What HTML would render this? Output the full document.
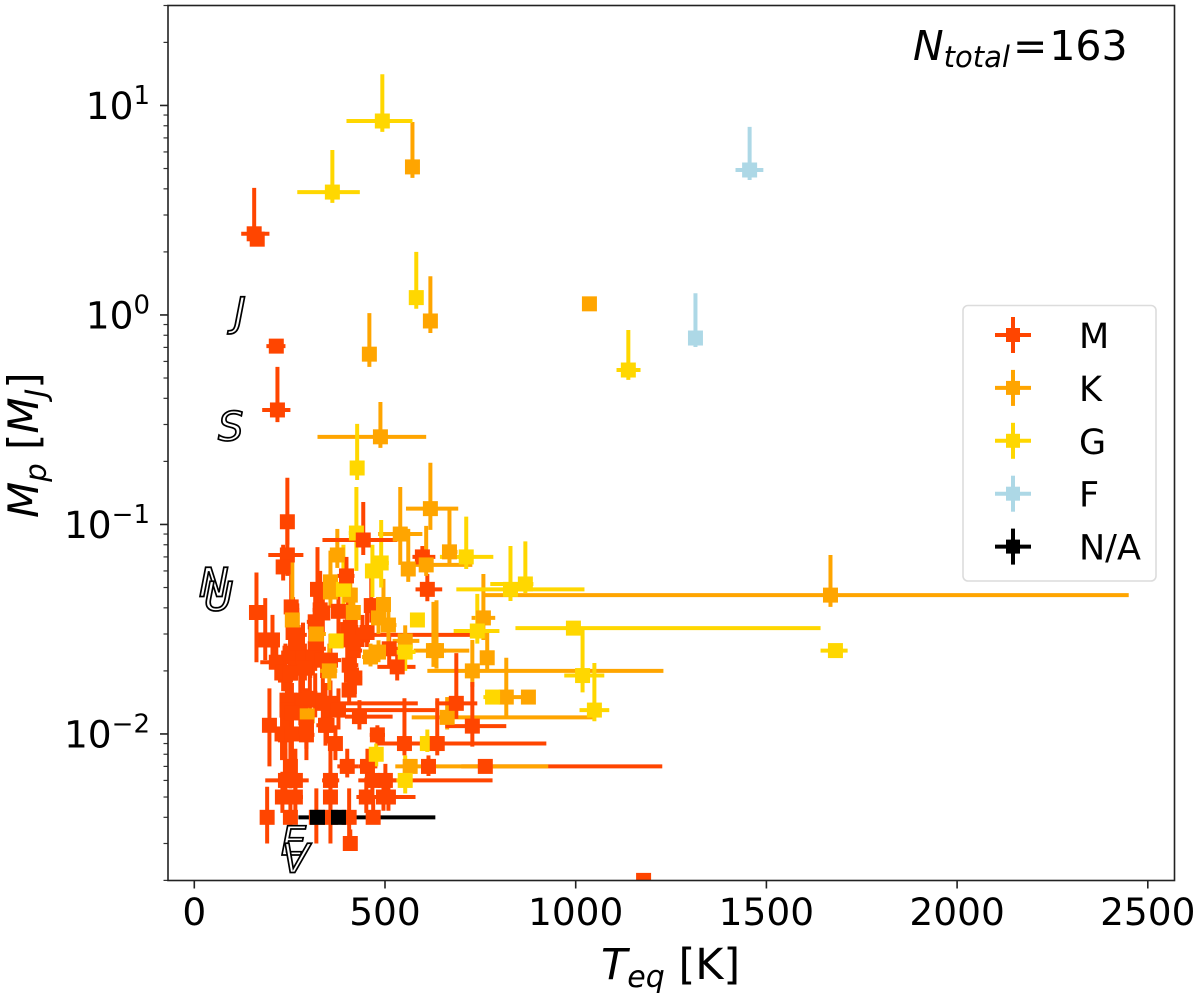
<!DOCTYPE html>
<html lang="en">
<head>
<meta charset="utf-8">
<title>Planet mass vs equilibrium temperature</title>
<style>
html,body{margin:0;padding:0;background:#fff;}
svg{display:block;font-family:"DejaVu Sans","Liberation Sans",sans-serif;}
</style>
</head>
<body>
<svg id="chart" xmlns="http://www.w3.org/2000/svg" width="1200" height="994" viewBox="0 0 1200 994"></svg>
<script>
// Tick values and labels
const xTickValues = [0, 500, 1000, 1500, 2000, 2500];
const yTickValues = [10, 1, 0.1, 0.01];
const yTickExponents = ["1", "0", "\u22121", "\u22122"];

// M stars (first batch)
const mTeq = [157,165,215,218,244,244,233,254,163,186,205,215,239,270,267,304,357,317,249,252,278,317,197,239,294,294,344,370,357,378,433,480,551,401,454,252,239,265,357,501,467,231,265,357,451,509,496,191,252,320,357,406,469,409,1178,598,611,323,464,330,378,317,409,401,441,417,406,412,406,511,532,763,251,285,311,335,233,251,290,259,270,337,403,416,453,421,243,243,285,303,256,337,230,256,348];
const mTeqLow = [123,147,189,178,228,194,218,240,150,163,190,173,215,250,245,283,325,300,230,235,250,295,180,225,280,270,320,355,320,340,395,460,525,375,430,235,186,245,335,470,430,215,245,340,425,480,470,180,235,305,345,395,450,400,1178,572,580,308,450,310,360,295,390,385,425,400,390,395,390,490,480,700,235,268,295,318,215,235,270,245,255,320,385,400,435,405,225,228,265,285,240,315,215,240,330];
const mTeqHigh = [197,184,239,252,260,286,250,268,176,220,220,257,265,295,292,325,385,345,270,270,305,350,215,265,310,315,365,385,586,632,520,500,582,430,480,270,300,285,380,530,782,250,285,375,480,580,520,205,270,335,370,420,490,420,1178,632,650,345,478,355,395,340,430,420,724,440,430,435,425,535,580,1227,270,302,330,352,250,268,310,275,285,355,420,432,470,440,262,260,305,322,272,360,245,272,365];
const mMass = [2.44,2.3,0.71,0.352,0.103,0.0715,0.0627,0.0404,0.038,0.0281,0.0281,0.022,0.0191,0.0297,0.022,0.0225,0.0225,0.0255,0.0145,0.0128,0.0138,0.0145,0.011,0.0099,0.0114,0.0099,0.011,0.009,0.014,0.013,0.0121,0.0099,0.009,0.007,0.007,0.007,0.006,0.006,0.006,0.006,0.006,0.005,0.005,0.005,0.005,0.005,0.005,0.004,0.004,0.004,0.004,0.004,0.004,0.003,0.002,0.07,0.049,0.049,0.041,0.0391,0.0385,0.0343,0.0324,0.0281,0.0297,0.025,0.0213,0.0191,0.0162,0.0255,0.0209,0.007,0.0243,0.0233,0.0231,0.0225,0.0197,0.0195,0.0206,0.0305,0.0272,0.0378,0.0315,0.0272,0.0305,0.0185,0.0145,0.013,0.0145,0.0148,0.0126,0.014,0.01,0.01,0.011];
const mMassLow = [2.3,2.25,0.68,0.308,0.08,0.0568,0.054,0.03,0.022,0.0225,0.0225,0.018,0.016,0.024,0.018,0.0185,0.019,0.02,0.012,0.0105,0.011,0.012,0.007,0.007,0.0085,0.0075,0.0088,0.0075,0.011,0.0105,0.0105,0.009,0.0079,0.0062,0.0062,0.0055,0.0052,0.005,0.005,0.0052,0.005,0.0042,0.0042,0.0037,0.0042,0.0043,0.0043,0.003,0.0035,0.003,0.003,0.003,0.0037,0.003,0.002,0.062,0.043,0.041,0.034,0.03,0.03,0.027,0.026,0.023,0.026,0.02,0.018,0.016,0.014,0.021,0.018,0.007,0.02,0.019,0.019,0.0185,0.016,0.016,0.018,0.025,0.022,0.03,0.026,0.023,0.026,0.0155,0.012,0.0105,0.012,0.0125,0.0105,0.0115,0.0075,0.0075,0.009];
const mMassHigh = [4.04,2.4,0.74,0.565,0.167,0.095,0.08,0.061,0.059,0.0445,0.037,0.028,0.027,0.042,0.031,0.035,0.03,0.037,0.02,0.0165,0.019,0.0195,0.0165,0.0135,0.0165,0.0135,0.0175,0.011,0.018,0.0165,0.0145,0.011,0.0148,0.0085,0.0085,0.0105,0.0085,0.0085,0.0095,0.0072,0.0072,0.0066,0.0066,0.0066,0.0062,0.006,0.006,0.0056,0.005,0.0055,0.005,0.0055,0.005,0.0035,0.002,0.0789,0.058,0.078,0.061,0.06,0.05,0.047,0.046,0.04,0.037,0.033,0.028,0.025,0.019,0.03,0.024,0.007,0.035,0.034,0.031,0.03,0.025,0.026,0.027,0.045,0.04,0.052,0.043,0.036,0.04,0.024,0.02,0.0175,0.02,0.019,0.0175,0.019,0.013,0.013,0.014];

// K stars
const kTeq = [572,1036,619,459,488,619,669,540,561,608,375,357,357,409,417,257,320,496,483,509,553,627,635,462,483,354,758,768,729,818,876,663,566,1668,296];
const kTeqLow = [565,1036,610,452,323,555,650,482,545,580,355,340,340,395,400,240,300,480,470,490,520,575,610,440,465,330,727,750,611,790,876,570,527,761,280];
const kTeqHigh = [580,1036,628,466,608,692,690,598,580,729,395,375,380,425,435,275,345,515,500,530,590,721,660,490,500,375,789,785,1230,875,876,1052,928,2450,312];
const kMass = [5.09,1.13,0.936,0.65,0.262,0.119,0.074,0.09,0.0613,0.0641,0.0715,0.0532,0.0476,0.046,0.038,0.035,0.03,0.0415,0.0358,0.0331,0.0278,0.025,0.025,0.0233,0.0246,0.02,0.0358,0.0231,0.02,0.015,0.015,0.012,0.007,0.046,0.0122];
const kMassLow = [4.51,1.13,0.82,0.565,0.232,0.0942,0.0641,0.0641,0.0532,0.0568,0.062,0.045,0.04,0.04,0.03,0.03,0.027,0.032,0.03,0.027,0.0245,0.0209,0.0205,0.021,0.022,0.0162,0.0281,0.02,0.0168,0.012,0.015,0.0105,0.0065,0.0404,0.0105];
const kMassHigh = [8.34,1.13,1.53,1.02,0.384,0.197,0.117,0.151,0.0952,0.0984,0.0952,0.075,0.06,0.058,0.05,0.0715,0.036,0.055,0.045,0.042,0.033,0.0427,0.0435,0.027,0.028,0.027,0.058,0.0305,0.0281,0.0231,0.015,0.015,0.0075,0.0715,0.0135];

// G stars
const gTeq = [493,362,582,1138,427,425,467,490,713,829,868,585,742,994,1018,1681,1049,372,782,611,477,553,553,391];
const gTeqLow = [399,270,575,1107,424,405,450,470,644,687,776,585,680,842,970,1642,1010,372,758,595,470,530,530,375];
const gTeqHigh = [572,434,590,1170,430,445,485,510,784,1023,889,585,800,1642,1075,1713,1088,372,800,625,485,570,580,410];
const gMass = [8.43,3.86,1.21,0.546,0.186,0.091,0.06,0.0655,0.07,0.049,0.052,0.035,0.031,0.032,0.019,0.025,0.013,0.0278,0.015,0.009,0.008,0.006,0.0246,0.049];
const gMassLow = [7.48,3.43,1.07,0.49,0.163,0.06,0.045,0.05,0.0613,0.0431,0.047,0.035,0.027,0.032,0.0158,0.024,0.0115,0.0278,0.015,0.0082,0.007,0.0052,0.02,0.04];
const gMassHigh = [14.1,6.13,2.0,0.848,0.302,0.151,0.08,0.105,0.109,0.0789,0.083,0.035,0.0466,0.032,0.032,0.026,0.0218,0.0278,0.015,0.0105,0.009,0.0079,0.03,0.08];

// F stars
const fTeq = [1456,1314];
const fTeqLow = [1419,1301];
const fTeqHigh = [1492,1327];
const fMass = [4.92,0.776];
const fMassLow = [4.41,0.703];
const fMassHigh = [7.9,1.27];

// M stars (later batch, drawn above the others)
const mLateTeq = [443,399,687,729,637,614,294];
const mLateTeqLow = [336,375,632,658,480,600,280];
const mLateTeqHigh = [532,420,742,818,923,630,310];
const mLateMass = [0.0843,0.0568,0.014,0.0109,0.009,0.007,0.0108];
const mLateMassLow = [0.0715,0.046,0.0118,0.0087,0.0079,0.0063,0.0085];
const mLateMassHigh = [0.128,0.07,0.0243,0.0177,0.0148,0.0079,0.0165];

// Host star type not available
const naTeq = [323,378];
const naTeqLow = [273,320];
const naTeqHigh = [420,632];
const naMass = [0.004,0.004];
const naMassLow = [0.004,0.004];
const naMassHigh = [0.004,0.004];

const legendLabels = ["M", "K", "G", "F", "N/A"];
const legendColors = ["#FF4500", "#FFA500", "#FFD700", "#ADD8E6", "#000000"];

// Solar-system planet labels
const planetNames = ["J", "S", "N", "U", "E", "V"];
const planetTeq = [104, 62, 12, 25, 227, 230];
const planetMass = [0.89, 0.251, 0.0452, 0.0388, 0.00265, 0.00218];

const NS = "http://www.w3.org/2000/svg";
const svg = document.getElementById("chart");
const LEFT = 168, RIGHT = 1174.5, TOP = 5.5, BOTTOM = 880.5;
function xScale(t) { return 194.3 + t * 0.3814; }
function yScale(m) { return TOP + (Math.log10(30) - Math.log10(m)) * 209.5; }

function make(tag, attrs, parent) {
  const el = document.createElementNS(NS, tag);
  for (const k in attrs) el.setAttribute(k, attrs[k]);
  (parent || svg).appendChild(el);
  return el;
}

// clip region
const defs = make("defs", {});
const clip = make("clipPath", { id: "plot-clip" }, defs);
make("rect", { x: LEFT, y: TOP, width: RIGHT - LEFT, height: BOTTOM - TOP }, clip);

const plot = make("g", { "clip-path": "url(#plot-clip)" });



const seriesList = [
  { key: "m", color: legendColors[0], t: mTeq, tl: mTeqLow, th: mTeqHigh, m: mMass, ml: mMassLow, mh: mMassHigh },
  { key: "k", color: legendColors[1], t: kTeq, tl: kTeqLow, th: kTeqHigh, m: kMass, ml: kMassLow, mh: kMassHigh },
  { key: "g", color: legendColors[2], t: gTeq, tl: gTeqLow, th: gTeqHigh, m: gMass, ml: gMassLow, mh: gMassHigh },
  { key: "f", color: legendColors[3], t: fTeq, tl: fTeqLow, th: fTeqHigh, m: fMass, ml: fMassLow, mh: fMassHigh },
  { key: "m-late", color: legendColors[0], t: mLateTeq, tl: mLateTeqLow, th: mLateTeqHigh, m: mLateMass, ml: mLateMassLow, mh: mLateMassHigh },
  { key: "na", color: legendColors[4], t: naTeq, tl: naTeqLow, th: naTeqHigh, m: naMass, ml: naMassLow, mh: naMassHigh }
];

// Error bars go beneath every marker
seriesList.forEach(function (s) {
  s.t.forEach(function (_, i) {
    const h = make("line", { x1: xScale(s.tl[i]), x2: xScale(s.th[i]), y1: yScale(s.m[i]), y2: yScale(s.m[i]), stroke: s.color, "stroke-width": 4 }, plot);
    
    
    const v = make("line", { x1: xScale(s.t[i]), x2: xScale(s.t[i]), y1: yScale(s.ml[i]), y2: yScale(s.mh[i]), stroke: s.color, "stroke-width": 4 }, plot);
    
    
  });
});
seriesList.forEach(function (s) {
  s.t.forEach(function (_, i) {
    const r = make("rect", { x: xScale(s.t[i]) - 7.5, y: yScale(s.m[i]) - 7.5, width: 15, height: 15, fill: s.color }, plot);
    
    
  });
});

planetNames.forEach(function (n, i) {
  const t = make("text", { x: xScale(planetTeq[i]), y: yScale(planetMass[i]), "font-size": 40, "font-style": "italic", fill: "#fff", stroke: "#000", "stroke-width": 1.7 });
  t.textContent = n;
  
  
});

// Ticks
xTickValues.forEach(function (v) {
  const x = xScale(v);
  const tk = make("line", { x1: x, x2: x, y1: BOTTOM, y2: BOTTOM + 8, stroke: "#222", "stroke-width": 1.6 });
  
  
  const lb = make("text", { x: x, y: 925, "text-anchor": "middle", "font-size": 37.5, fill: "#000" });
  lb.textContent = String(v);
  
  
});
yTickValues.forEach(function (v, i) {
  const y = yScale(v);
  const tk = make("line", { x1: LEFT - 8, x2: LEFT, y1: y, y2: y, stroke: "#222", "stroke-width": 1.6 });
  
  
  const lb = make("text", { x: 150, y: y + 13.5, "text-anchor": "end", "font-size": 37.5, fill: "#000" });
  
  
  lb.appendChild(document.createTextNode("10"));
  const sup = make("tspan", { dy: -15, "font-size": 26 }, lb);
  sup.textContent = yTickExponents[i];
});
for (let d = -3; d <= 1; d++) {
  for (let f = 2; f <= 9; f++) {
    const mv = f * Math.pow(10, d);
    const y = yScale(mv);
    if (y < TOP - 1 || y > BOTTOM + 1) continue;
    const tk = make("line", { x1: LEFT - 4.5, x2: LEFT, y1: y, y2: y, stroke: "#333", "stroke-width": 1.2 });
    
    
  }
}

// Frame
const frame = make("rect", { x: LEFT, y: TOP, width: RIGHT - LEFT, height: BOTTOM - TOP, fill: "none", stroke: "#222", "stroke-width": 1.6 });



// Axis titles
const xTitle = make("text", { x: 601, y: 979, "font-size": 43, fill: "#000" });


xTitle.innerHTML = '<tspan font-style="italic">T</tspan><tspan font-style="italic" font-size="30" dy="8">eq</tspan><tspan dy="-8"> [K]</tspan>';

const yTitle = make("text", { transform: "translate(38,518) rotate(-90)", "font-size": 42, fill: "#000" });


yTitle.innerHTML = '<tspan font-style="italic">M</tspan><tspan font-style="italic" font-size="29" dy="8">p</tspan><tspan dy="-8"> [</tspan><tspan font-style="italic">M</tspan><tspan font-style="italic" font-size="29" dy="8">J</tspan><tspan dy="-8">]</tspan>';

// Total annotation
const total = make("text", { x: 913, y: 60, "font-size": 41, fill: "#000" });


total.innerHTML = '<tspan font-style="italic">N</tspan><tspan font-style="italic" font-size="29" dy="7">total</tspan><tspan dy="-7" dx="3">=</tspan><tspan dx="2">163</tspan>';

// Legend
const legend = make("g", {});


const legendBox = make("rect", { x: 963, y: 305.5, width: 193, height: 275.5, rx: 5, ry: 5, fill: "#fff", "fill-opacity": 0.85, stroke: "#dcdcdc", "stroke-width": 1.6 }, legend);


legendLabels.forEach(function (label, i) {
  const cy = 335 + i * 52.9;
  const entry = make("g", {}, legend);
  
  
  make("line", { x1: 995, x2: 1031, y1: cy, y2: cy, stroke: legendColors[i], "stroke-width": 4 }, entry);
  make("line", { x1: 1013, x2: 1013, y1: cy - 18, y2: cy + 18, stroke: legendColors[i], "stroke-width": 4 }, entry);
  make("rect", { x: 1006, y: cy - 7, width: 14, height: 14, fill: legendColors[i] }, entry);
  const tx = make("text", { x: 1079, y: cy + 13, "font-size": 35, fill: "#000" }, entry);
  tx.textContent = label;
});
</script>
</body>
</html>
